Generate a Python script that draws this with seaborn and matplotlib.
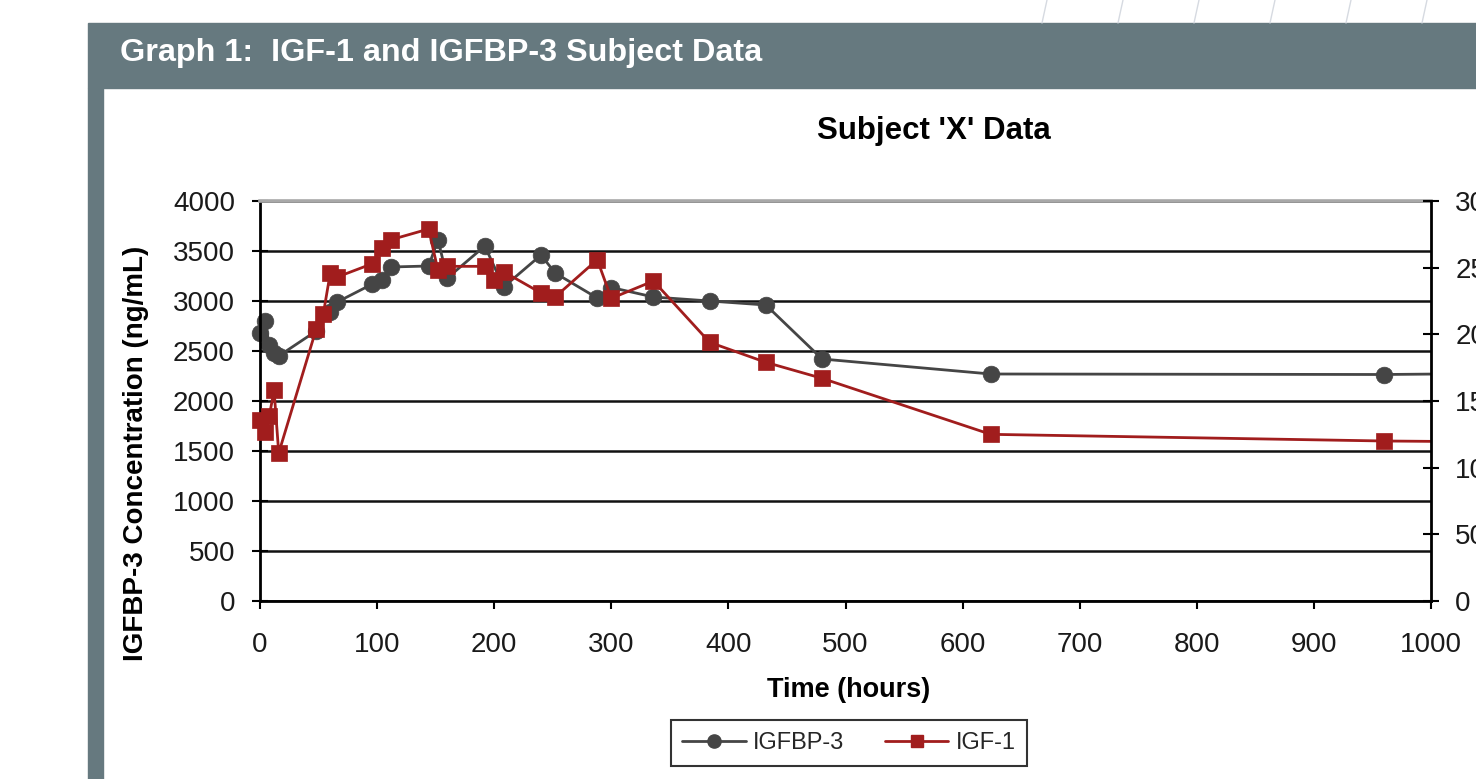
import matplotlib
matplotlib.use("Agg")
import matplotlib.pyplot as plt
from matplotlib.lines import Line2D
from matplotlib.patches import Rectangle
from matplotlib.transforms import Bbox, TransformedBbox
import seaborn as sns

# ---------------------------------------------------------------------------
# Data (hours after start, ng/mL)
# ---------------------------------------------------------------------------
igfbp3_hours = [0, 4, 8, 12, 16, 48, 60, 66, 96, 104, 112, 144, 152, 160,
                192, 208, 240, 252, 288, 300, 336, 384, 432, 480, 624, 960, 1104]
igfbp3_conc = [2680, 2800, 2560, 2480, 2450, 2700, 2890, 2990, 3170, 3210, 3340,
               3350, 3610, 3230, 3550, 3140, 3460, 3280, 3030, 3135, 3040, 3000,
               2960, 2420, 2270, 2265, 2280]

igf1_hours = [0, 4, 8, 12, 16, 48, 54, 60, 66, 96, 104, 112, 144, 152, 160,
              192, 200, 208, 240, 252, 288, 300, 336, 384, 432, 480, 624, 960, 1104]
igf1_conc = [136, 127, 139, 158, 111, 204, 215, 246, 243, 253, 265, 271, 279,
             248, 251, 251, 241, 247, 231, 228, 256, 227, 240, 194, 179, 167,
             125, 120, 119]

x_ticks = list(range(0, 1001, 100))
left_ticks = list(range(0, 4001, 500))
right_ticks = list(range(0, 301, 50))

GRAY = "#454545"
RED = "#A11D1D"
SLATE = "#66797F"

sns.set_theme(style="white")
plt.rcParams["font.family"] = ["Liberation Sans", "DejaVu Sans"]

fig = plt.figure(figsize=(14.76, 7.79), dpi=100)
fig.patch.set_facecolor("white")

# page decoration: header band + left strip
fig.add_artist(Rectangle((88 / 1476, 1 - 88 / 779), 1, 65 / 779,
                         transform=fig.transFigure, color=SLATE, zorder=0))
fig.add_artist(Rectangle((88 / 1476, 0), 15 / 1476, 1 - 88 / 779,
                         transform=fig.transFigure, color=SLATE, zorder=0))
for k in range(6):
    xb = (1042 + 76 * k) / 1476
    fig.add_artist(Line2D([xb, xb + 5 / 1476], [1 - 23 / 779, 1],
                          transform=fig.transFigure, color="#D6DAE1", lw=1))
fig.text(120 / 1476, 1 - 53 / 779, "Graph 1:  IGF-1 and IGFBP-3 Subject Data",
         color="white", fontsize=23.3, fontweight="bold", va="center", ha="left")

# ---------------------------------------------------------------------------
# Chart
# ---------------------------------------------------------------------------
ax = fig.add_axes([260 / 1476, 1 - 601 / 779, 1171 / 1476, 400 / 779])
ax.set_facecolor("white")
ax2 = ax.twinx()

sns.lineplot(x=igfbp3_hours, y=igfbp3_conc, ax=ax, color=GRAY, marker="o",
             markersize=12, markeredgecolor=GRAY, markeredgewidth=0.5,
             linewidth=2, estimator=None, sort=False)
sns.lineplot(x=igf1_hours, y=igf1_conc, ax=ax2, color=RED, marker="s",
             markersize=11.5, markeredgecolor=RED, markeredgewidth=0.5,
             linewidth=2, estimator=None, sort=False)

# let markers at t=0 spill past the left axis, but cut the lines at x=1000
for a in (ax, ax2):
    clip = TransformedBbox(Bbox([[-0.03, -0.1], [1.0, 1.1]]), a.transAxes)
    for line in a.lines:
        line.set_clip_box(clip)

ax.set_xlim(0, 1000)
ax.set_ylim(0, 4000)
ax2.set_ylim(0, 300)
ax.set_xticks(x_ticks)
ax.set_yticks(left_ticks)
ax2.set_yticks(right_ticks)

ax.grid(axis="y", color="#111111", linewidth=1.8)
ax.grid(axis="x", visible=False)
ax2.grid(False)

for side in ("left", "bottom"):
    ax.spines[side].set_color("black")
    ax.spines[side].set_linewidth(2)
ax.spines["right"].set_visible(False)
ax.spines["top"].set_color("#A8A8A8")
ax.spines["top"].set_linewidth(2.6)
ax2.spines["right"].set_color("black")
ax2.spines["right"].set_linewidth(2)
for side in ("left", "top", "bottom"):
    ax2.spines[side].set_visible(False)

ax.tick_params(axis="y", direction="inout", length=12, width=1.5, colors="black",
               labelsize=20, pad=12, left=True)
ax.tick_params(axis="x", direction="out", length=6, width=1.5, colors="black",
               labelsize=20, pad=16, bottom=True)
ax2.tick_params(axis="y", direction="inout", length=11, width=1.5, colors="black",
                labelsize=20, pad=12, right=True)
for lbl in ax.get_xticklabels() + ax.get_yticklabels() + ax2.get_yticklabels():
    lbl.set_color("#1A1A1A")

ax.set_xlabel("Time (hours)", fontsize=19.5, fontweight="bold", color="black")
ax.xaxis.set_label_coords(0.503, -0.19)
ax.set_ylabel("IGFBP-3 Concentration (ng/mL)", fontsize=20, fontweight="bold",
              color="black")
ax.yaxis.set_label_coords(-0.095, 0.37)
ax2.set_ylabel("")

fig.text(934 / 1476, 1 - 131 / 779, "Subject 'X' Data", fontsize=22.5,
         fontweight="bold", ha="center", va="center", color="black")

handles = [
    Line2D([], [], color=GRAY, marker="o", markersize=9.5, lw=2),
    Line2D([], [], color=RED, marker="s", markersize=9, lw=2),
]
leg = fig.legend(handles, ["IGFBP-3", "IGF-1"], loc="center",
                 bbox_to_anchor=(849 / 1476, 1 - 743 / 779), ncol=2,
                 frameon=True, fancybox=False, edgecolor="black", fontsize=17,
                 handlelength=2.7, columnspacing=1.7, handletextpad=0.3,
                 borderpad=0.5)
leg.get_frame().set_linewidth(1.5)

fig.savefig("out.png", dpi=100, facecolor="white")
